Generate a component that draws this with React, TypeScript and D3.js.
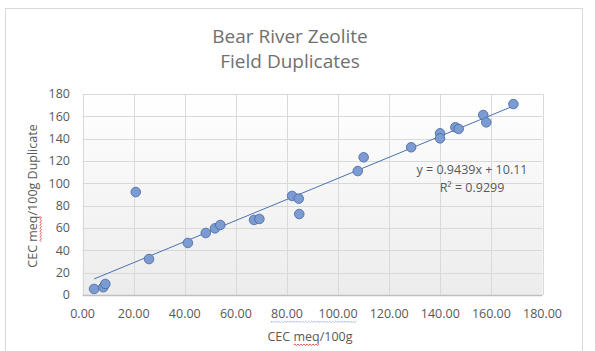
import * as d3 from "d3";
import { useEffect, useRef } from "react";

// CEC meq/100g original vs field duplicate
const cecOriginal = [
  4.5, 8.1, 8.9, 20.8, 26.0, 41.2, 48.2, 51.8, 53.9, 67.1, 69.2, 82.0, 84.6,
  84.8, 107.7, 110.0, 128.6, 139.9, 139.9, 145.9, 147.2, 156.8, 158.0, 168.6,
];
const cecDuplicate = [
  5.4, 6.9, 9.9, 92.2, 32.2, 46.6, 55.5, 59.7, 62.7, 67.2, 68.1, 88.7, 86.3,
  72.5, 111.0, 123.3, 132.3, 144.8, 140.3, 150.2, 148.7, 161.2, 154.6, 171.0,
];
const xTicks = [0, 20, 40, 60, 80, 100, 120, 140, 160, 180];
const yTicks = [0, 20, 40, 60, 80, 100, 120, 140, 160, 180];
const slope = 0.9439;
const intercept = 10.11;
const rSquared = 0.9299;

const FONT = "'Open Sans', 'Noto Sans', sans-serif";
const COLORS = {
  text: "#595959",
  title: "#707070",
  grid: "#d9d9d9",
  axis: "#bfbfbf",
  fill: "#7b9bd2",
  stroke: "#44679f",
  trend: "#4a72b0",
  spell: "#e03030",
  grammar: "#3050c0",
};

const width = 595;
const height = 351;

// wavy "spell check" underline path
const wavy = (x0: number, x1: number, yy: number) => {
  let p = `M${x0},${yy}`;
  let up = true;
  for (let xx = x0 + 1.5; xx <= x1; xx += 1.5) {
    p += ` L${xx},${yy + (up ? -1 : 0.5)}`;
    up = !up;
  }
  return p;
};

export default function App() {
  const svgRef = useRef<SVGSVGElement>(null);

  useEffect(() => {
    const svg = d3.select(svgRef.current);
    svg.selectAll("*").remove();

    const left = 82.6;
    const right = 542.5;
    const top = 94;
    const bottom = 295;

    const x = d3.scaleLinear().domain([0, 180]).range([left, right]);
    const y = d3.scaleLinear().domain([0, 180]).range([bottom, top]);

    // chart frame
    svg
      .append("rect")
      .attr("x", 5.5)
      .attr("y", 8.5)
      .attr("width", 577)
      .attr("height", 360)
      .attr("fill", "#fff")
      .attr("stroke", "#d9d9d9");

    // plot area gradient
    const defs = svg.append("defs");
    const grad = defs
      .append("linearGradient")
      .attr("id", "plotbg")
      .attr("x1", 0)
      .attr("y1", 0)
      .attr("x2", 0)
      .attr("y2", 1);
    grad.append("stop").attr("offset", "0%").attr("stop-color", "#ffffff");
    grad.append("stop").attr("offset", "100%").attr("stop-color", "#ececec");

    svg
      .append("rect")
      .attr("x", left)
      .attr("y", top)
      .attr("width", right - left)
      .attr("height", bottom - top)
      .attr("fill", "url(#plotbg)");

    // gridlines
    const grid = svg.append("g").attr("stroke", COLORS.grid).attr("stroke-width", 1);
    grid
      .selectAll("line.h")
      .data(yTicks.slice(1))
      .join("line")
      .attr("x1", left)
      .attr("x2", right)
      .attr("y1", (d) => Math.round(y(d)) + 0.5)
      .attr("y2", (d) => Math.round(y(d)) + 0.5);
    grid
      .selectAll("line.v")
      .data(xTicks)
      .join("line")
      .attr("x1", (d) => Math.round(x(d)) + 0.5)
      .attr("x2", (d) => Math.round(x(d)) + 0.5)
      .attr("y1", top)
      .attr("y2", bottom);

    // bottom axis line
    svg
      .append("line")
      .attr("x1", left)
      .attr("x2", right)
      .attr("y1", bottom + 0.5)
      .attr("y2", bottom + 0.5)
      .attr("stroke", COLORS.axis)
      .attr("stroke-width", 1.5);

    // tick labels
    const xLabels = svg
      .append("g")
      .selectAll("text")
      .data(xTicks)
      .join("text")
      .attr("x", (d) => x(d))
      .attr("y", 318)
      .attr("text-anchor", "middle")
      .attr("font-family", FONT)
      .attr("font-size", 12.5)
      .attr("fill", COLORS.text)
      .text((d) => d3.format(".2f")(d));

    svg
      .append("g")
      .selectAll("text")
      .data(yTicks)
      .join("text")
      .attr("x", 70)
      .attr("y", (d) => y(d))
      .attr("dy", "0.35em")
      .attr("text-anchor", "end")
      .attr("font-family", FONT)
      .attr("font-size", 12.5)
      .attr("fill", COLORS.text)
      .text((d) => d);

    // grammar-check dotted underline below 80.00 and 100.00
    const lbl = xLabels.nodes() as SVGTextElement[];
    const b80 = lbl[4].getBBox();
    const b100 = lbl[5].getBBox();
    svg
      .append("path")
      .attr("d", wavy(b80.x, b100.x + b100.width, 322))
      .attr("fill", "none")
      .attr("stroke", COLORS.grammar)
      .attr("stroke-width", 0.7)
      .attr("stroke-dasharray", "1,1");

    // trendline
    const xr = d3.extent(cecOriginal) as [number, number];
    svg
      .append("line")
      .attr("x1", x(xr[0]))
      .attr("y1", y(slope * xr[0] + intercept))
      .attr("x2", x(xr[1]))
      .attr("y2", y(slope * xr[1] + intercept))
      .attr("stroke", COLORS.trend)
      .attr("stroke-width", 1);

    // points
    svg
      .append("g")
      .selectAll("circle")
      .data(cecOriginal)
      .join("circle")
      .attr("cx", (d) => x(d))
      .attr("cy", (d, i) => y(cecDuplicate[i]))
      .attr("r", 4.8)
      .attr("fill", COLORS.fill)
      .attr("stroke", COLORS.stroke)
      .attr("stroke-width", 0.8);

    // trendline equation
    svg
      .append("text")
      .attr("x", 472)
      .attr("y", 174)
      .attr("text-anchor", "middle")
      .attr("font-family", FONT)
      .attr("font-size", 12.5)
      .attr("fill", COLORS.text)
      .text(`y = ${slope}x + ${intercept}`);
    svg
      .append("text")
      .attr("x", 472)
      .attr("y", 192)
      .attr("text-anchor", "middle")
      .attr("font-family", FONT)
      .attr("font-size", 12.5)
      .attr("fill", COLORS.text)
      .text(`R² = ${rSquared}`);

    // title
    const title = svg
      .append("text")
      .attr("text-anchor", "middle")
      .attr("font-family", FONT)
      .attr("font-size", 19)
      .attr("fill", COLORS.title);
    title.append("tspan").attr("x", 290).attr("y", 43).text("Bear River Zeolite");
    title.append("tspan").attr("x", 290).attr("y", 68).text("Field Duplicates");

    // axis titles
    const xTitle = svg
      .append("text")
      .attr("x", 310)
      .attr("y", 341)
      .attr("text-anchor", "middle")
      .attr("font-family", FONT)
      .attr("font-size", 12.5)
      .attr("fill", COLORS.text)
      .text("CEC meq/100g");

    const xt = xTitle.node() as SVGTextElement;
    const mx0 = xt.getStartPositionOfChar(4).x;
    const mx1 = mx0 + xt.getSubStringLength(4, 3);
    svg
      .append("path")
      .attr("d", wavy(mx0, mx1, 345))
      .attr("fill", "none")
      .attr("stroke", COLORS.spell)
      .attr("stroke-width", 0.8);

    const yTitle = svg
      .append("text")
      .attr("transform", "translate(37,196) rotate(-90)")
      .attr("text-anchor", "middle")
      .attr("font-family", FONT)
      .attr("font-size", 12.5)
      .attr("fill", COLORS.text)
      .text("CEC meq/100g Duplicate");

    const yt = yTitle.node() as SVGTextElement;
    const my0 = yt.getStartPositionOfChar(4).x;
    const my1 = my0 + yt.getSubStringLength(4, 3);
    svg
      .append("path")
      .attr("transform", "translate(37,196) rotate(-90)")
      .attr("d", wavy(my0, my1, 4))
      .attr("fill", "none")
      .attr("stroke", COLORS.spell)
      .attr("stroke-width", 0.8);
  }, []);

  return (
    <svg
      ref={svgRef}
      width={width}
      height={height}
      style={{ position: "absolute", left: 0, top: 0, background: "#fff" }}
    />
  );
}
